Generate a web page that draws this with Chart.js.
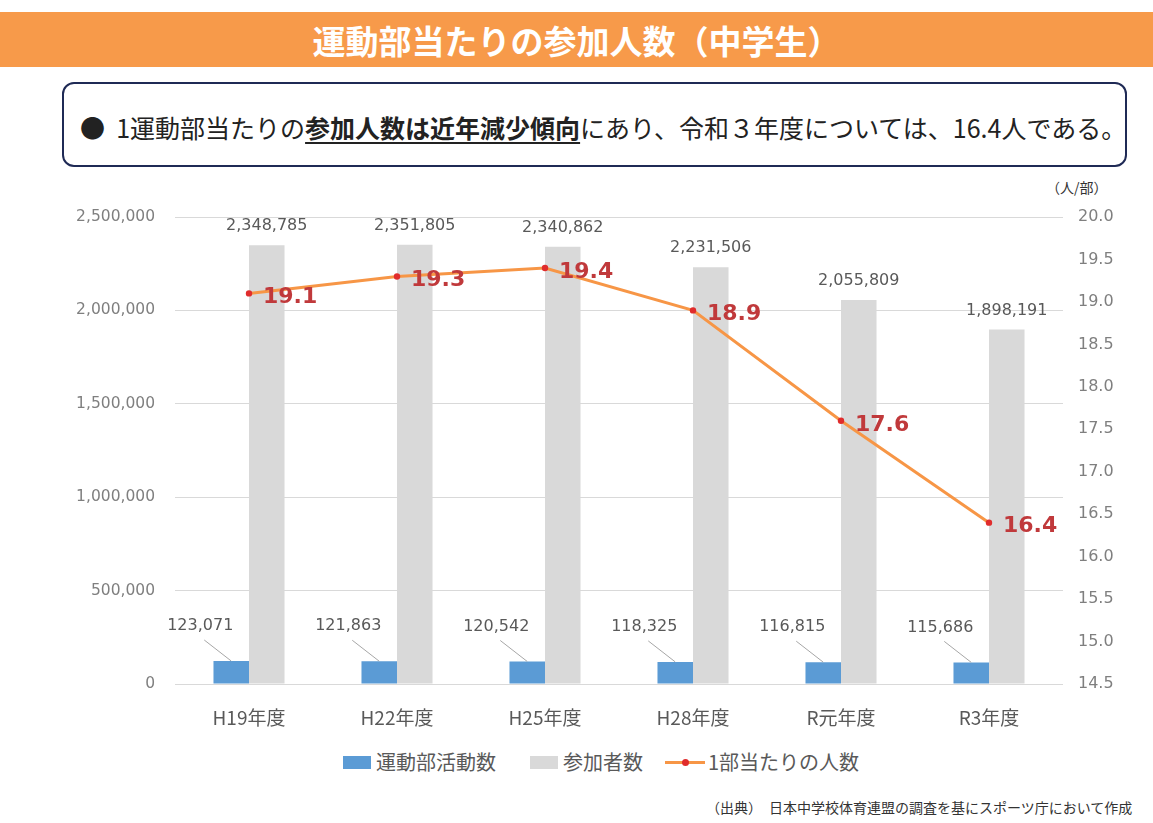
<!DOCTYPE html>
<html lang="ja">
<head>
<meta charset="utf-8">
<script src="https://cdn.jsdelivr.net/npm/chart.js@4.4.1/dist/chart.umd.min.js"></script>
<style>
  html, body { margin:0; padding:0; background:#fff; width:1153px; height:823px; overflow:hidden; }
  body { position:relative; font-family:"Noto Sans CJK JP","Noto Sans",sans-serif; }
  #band { position:absolute; left:0; top:12px; width:1153px; height:55px; background:#F79A4A;
          color:#fff; font-weight:bold; font-size:33px; text-align:center; line-height:57px; letter-spacing:0px; }
  #box { position:absolute; left:62px; top:82px; border:2.5px solid #1F2A55;
         border-radius:12px; box-sizing:border-box; width:1065px; height:85px; }
  #boxtext { position:absolute; left:80px; top:109px; font-size:25px; color:#222; white-space:nowrap; line-height:36px; }
  #boxtext b { text-decoration:underline; text-underline-offset:4px; text-decoration-thickness:2px; }
  #unit { position:absolute; left:1046px; top:177px; font-size:14px; color:#333; }
  #chartwrap { position:absolute; left:0; top:175px; width:1153px; height:570px; }
  #legend { position:absolute; top:749px; left:0; width:1153px; height:26px; font-size:20px; color:#595959; }
  .lg { position:absolute; top:0; line-height:26px; white-space:nowrap; }
  .sw { position:absolute; top:7px; width:28px; height:13px; }
  #src { position:absolute; left:706px; top:797px; font-size:14px; color:#333; white-space:nowrap; }
</style>
</head>
<body>
<div id="band">運動部当たりの参加人数（中学生）</div>
<div id="box"></div>
<div id="boxtext">●&nbsp;&nbsp;1運動部当たりの<b>参加人数は近年減少傾向</b>にあり、令和３年度については、16.4人である。</div>
<div id="unit">（人/部）</div>
<div id="chartwrap"><canvas id="c" width="1153" height="570"></canvas></div>
<div id="legend">
  <div class="sw" style="left:343px;background:#5B9BD5;"></div>
  <div class="lg" style="left:376px;">運動部活動数</div>
  <div class="sw" style="left:530px;background:#D9D9D9;"></div>
  <div class="lg" style="left:563px;">参加者数</div>
  <div style="position:absolute;left:665px;top:12px;width:40px;height:3px;background:#F79646;"></div>
  <div style="position:absolute;left:682px;top:10px;width:7px;height:7px;border-radius:50%;background:#E02C2C;"></div>
  <div class="lg" style="left:708px;">1部当たりの人数</div>
</div>
<div id="src">（出典）　日本中学校体育連盟の調査を基にスポーツ庁において作成</div>

<script>
const categories = ["H19年度", "H22年度", "H25年度", "H28年度", "R元年度", "R3年度"];
const clubCounts = [123071, 121863, 120542, 118325, 116815, 115686];
const participants = [2348785, 2351805, 2340862, 2231506, 2055809, 1898191];
const perClub = [19.1, 19.3, 19.4, 18.9, 17.6, 16.4];
const leftTicks = [0, 500000, 1000000, 1500000, 2000000, 2500000];
const rightTicks = [14.5, 15.0, 15.5, 16.0, 16.5, 17.0, 17.5, 18.0, 18.5, 19.0, 19.5, 20.0];

const fmt = v => v.toString().replace(/\B(?=(\d{3})+(?!\d))/g, ",");
const NUM_FONT = '"DejaVu Sans", Verdana, sans-serif';

const labelPlugin = {
  id: 'labels',
  afterDatasetsDraw(chart) {
    const ctx = chart.ctx;
    ctx.save();
    chart.getDatasetMeta(0).data.forEach((el, i) => {
      ctx.strokeStyle = '#A6A6A6';
      ctx.lineWidth = 1;
      ctx.beginPath();
      ctx.moveTo(el.x - 27, el.y - 21);
      ctx.lineTo(el.x, el.y);
      ctx.stroke();
      ctx.fillStyle = '#595959';
      ctx.font = '16px ' + NUM_FONT;
      ctx.textAlign = 'center';
      ctx.textBaseline = 'middle';
      ctx.fillText(fmt(clubCounts[i]), el.x - 31, el.y - 35);
    });
    chart.getDatasetMeta(1).data.forEach((el, i) => {
      ctx.fillStyle = '#595959';
      ctx.font = '16px ' + NUM_FONT;
      ctx.textAlign = 'center';
      ctx.textBaseline = 'middle';
      ctx.fillText(fmt(participants[i]), el.x, el.y - 19);
    });
    chart.getDatasetMeta(2).data.forEach((el, i) => {
      ctx.fillStyle = '#C0393B';
      ctx.font = 'bold 22px ' + NUM_FONT;
      ctx.textAlign = 'left';
      ctx.textBaseline = 'middle';
      ctx.fillText(perClub[i].toFixed(1), el.x + 14, el.y + 4);
    });
    ctx.restore();
  }
};

new Chart(document.getElementById('c'), {
  data: {
    labels: categories,
    datasets: [
      { type: 'bar', label: '運動部活動数', data: clubCounts, backgroundColor: '#5B9BD5',
        yAxisID: 'y', order: 2, categoryPercentage: 0.48, barPercentage: 1.0 },
      { type: 'bar', label: '参加者数', data: participants, backgroundColor: '#D9D9D9',
        yAxisID: 'y', order: 3, categoryPercentage: 0.48, barPercentage: 1.0 },
      { type: 'line', label: '1部当たりの人数', data: perClub, borderColor: '#F79646', borderWidth: 3,
        pointRadius: 3.2, pointBackgroundColor: '#E02C2C', pointBorderWidth: 0, tension: 0,
        yAxisID: 'y1', order: 1 }
    ]
  },
  options: {
    responsive: false,
    animation: false,
    layout: { padding: { top: 42, left: 0, right: 0, bottom: 0 } },
    plugins: { legend: { display: false }, tooltip: { enabled: false } },
    scales: {
      x: {
        grid: { display: false, drawTicks: false },
        border: { display: false },
        ticks: { color: '#595959', font: { size: 19, family: '"Noto Sans CJK JP", sans-serif' }, padding: 22 },
        afterFit: s => { s.height = 61; }
      },
      y: {
        position: 'left', min: 0, max: 2500000,
        afterBuildTicks: s => { s.ticks = leftTicks.map(v => ({ value: v })); },
        grid: { color: '#D9D9D9', drawTicks: false, lineWidth: 1 },
        border: { display: false },
        ticks: { color: '#7F7F7F', font: { size: 15.5, family: NUM_FONT }, padding: 20, callback: v => fmt(v) },
        afterFit: s => { s.width = 175; }
      },
      y1: {
        position: 'right', min: 14.5, max: 20,
        afterBuildTicks: s => { s.ticks = rightTicks.map(v => ({ value: v })); },
        grid: { display: false, drawTicks: false },
        border: { display: false },
        ticks: { color: '#7F7F7F', font: { size: 16, family: NUM_FONT }, padding: 15, callback: v => Number(v).toFixed(1) },
        afterFit: s => { s.width = 90; }
      }
    }
  },
  plugins: [labelPlugin]
});
</script>
</body>
</html>
